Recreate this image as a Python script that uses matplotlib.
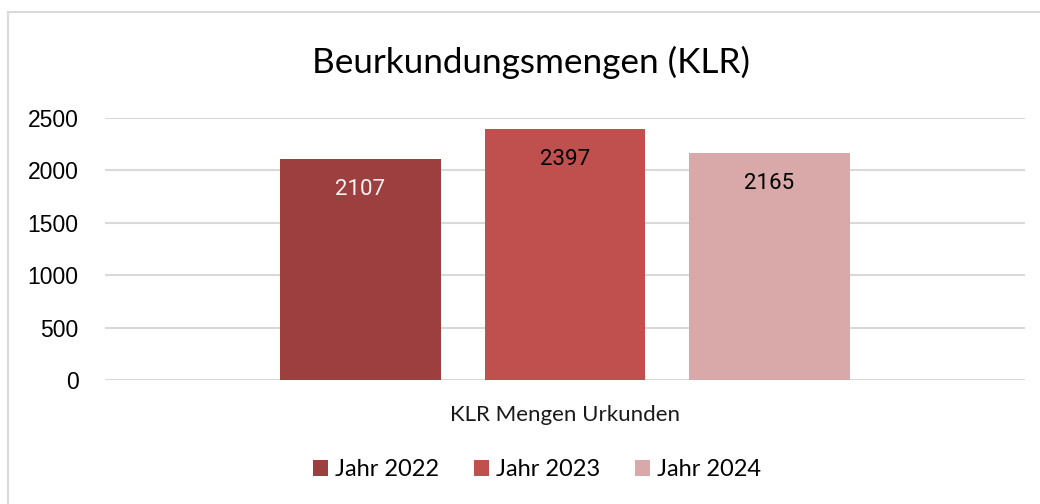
import matplotlib
matplotlib.use("Agg")
import matplotlib.pyplot as plt
from matplotlib.patches import Rectangle, Patch

CATEGORY = "KLR Mengen Urkunden"
SERIES = ["Jahr 2022", "Jahr 2023", "Jahr 2024"]
VALUES = [2107, 2397, 2165]
COLORS = ["#9E3F3F", "#C0504D", "#D9A9A9"]
LABEL_COLORS = ["#F2F2F2", "#000000", "#000000"]
YTICKS = [0, 500, 1000, 1500, 2000, 2500]

W, H = 1040, 504
fig = plt.figure(figsize=(W / 100, H / 100), dpi=100)
fig.patch.set_facecolor("white")

# light frame of the chart area (cut off at right and bottom)
fig.patches.append(Rectangle((8 / W, -0.1), 1.2, 1 - 12 / H + 0.1, transform=fig.transFigure,
                             fill=False, edgecolor="#D9D9D9", lw=1.5))

ax = fig.add_axes([105 / W, (H - 380) / H, 920 / W, 262 / H])
x = [-1, 0, 1]
bars = ax.bar(x, VALUES, width=0.787, color=COLORS, zorder=2)
for b, v, c in zip(bars, VALUES, LABEL_COLORS):
    ax.annotate(f"{v}", (b.get_x() + b.get_width() / 2, v), xytext=(0, -22),
                textcoords="offset points", ha="center", va="center", color=c,
                fontsize=16, family=["Roboto", "DejaVu Sans"])

ax.set_xlim(-2.25, 2.25)
ax.set_ylim(0, 2500)
ax.set_yticks(YTICKS)
ax.set_yticklabels([str(t) for t in YTICKS], fontsize=16.5, family="Liberation Sans", color="#000000")
ax.tick_params(axis="y", length=0, pad=19)
ax.set_xticks([])
ax.grid(axis="y", color="#D9D9D9", lw=1.5, zorder=0)
for s in ax.spines.values():
    s.set_visible(False)

fig.text(531 / W, 1 - 62 / H, "Beurkundungsmengen (KLR)", ha="center", va="center",
         fontsize=25.3, family="Lato", color="#000000")
fig.text(565 / W, 1 - 415 / H, CATEGORY, ha="center", va="center",
         fontsize=16, family="Lato", color="#1A1A1A")

handles = [Patch(facecolor=c, edgecolor="none") for c in COLORS]
fig.legend(handles, SERIES, loc="center", bbox_to_anchor=(537 / W, 1 - 470 / H), ncol=3,
           frameon=False, prop={"family": "Lato", "size": 17}, handlelength=0.65,
           handleheight=0.65, handletextpad=0.3, columnspacing=1.45)

fig.savefig("out.png", dpi=100)
